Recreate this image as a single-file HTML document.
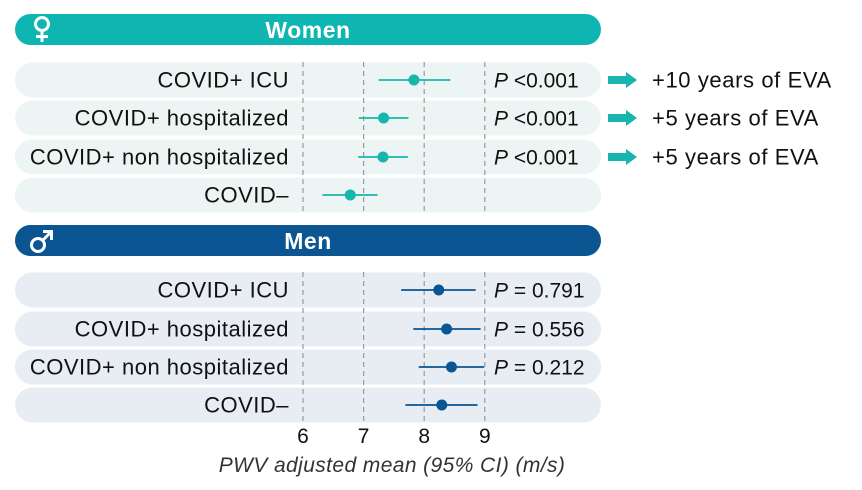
<!DOCTYPE html>
<html><head><meta charset="utf-8"><style>
html,body{margin:0;padding:0;background:#fff;}
svg{display:block;font-family:"Liberation Sans",sans-serif;}
</style></head><body>
<svg id="chart" width="862" height="490" viewBox="0 0 862 490"></svg>
<script>
const categories = ["COVID+ ICU","COVID+ hospitalized","COVID+ non hospitalized","COVID\u2013"];
const womenMean = [7.83, 7.33, 7.32, 6.78];
const womenLow = [7.25, 6.92, 6.91, 6.32];
const womenHigh = [8.43, 7.74, 7.73, 7.23];
const menMean = [8.24, 8.37, 8.45, 8.29];
const menLow = [7.62, 7.82, 7.91, 7.69];
const menHigh = [8.85, 8.93, 8.99, 8.88];
const womenP = ["<0.001","<0.001","<0.001",""];
const menP = ["= 0.791","= 0.556","= 0.212",""];
const womenNote = ["+10 years of EVA","+5 years of EVA","+5 years of EVA",""];
const xTicks = [6,7,8,9];

const svg = document.getElementById('chart');
const NS = 'http://www.w3.org/2000/svg';
function mk(tag, attrs, parent){const e=document.createElementNS(NS,tag);for(const k in attrs)e.setAttribute(k,attrs[k]);(parent||svg).appendChild(e);return e;}
const xScale = v => 303 + (v-6)*60.6;
const womenRowY = [80, 118, 157, 195];
const menRowY = [290, 329, 367, 405];

function header(y, color, label, name){
  const r = mk('rect',{x:15,y:y,width:586,height:31,rx:15.5,fill:color});
  
  
  const t = mk('text',{x:308,y:y+24,'font-size':23,'font-weight':'bold',fill:'#fff','text-anchor':'middle','letter-spacing':'0.5'}); t.textContent=label;
  
  
}
header(14,'#0fb5b0','Women','women');
header(225,'#0a5592','Men','men');
const fs = mk('g',{stroke:'#fff','stroke-width':3,fill:'none'});


mk('circle',{cx:42,cy:24,r:6.5},fs);
mk('line',{x1:42,y1:30.5,x2:42,y2:42},fs);
mk('line',{x1:36,y1:36.5,x2:48,y2:36.5},fs);
const ms = mk('g',{stroke:'#fff','stroke-width':3,fill:'none'});


mk('circle',{cx:38,cy:245,r:6.5},ms);
mk('line',{x1:43,y1:240,x2:51,y2:232},ms);
mk('path',{d:'M43 231.5H51.5V240'},ms);

function rows(ys, bg, name){
  ys.forEach((cy,i)=>{
    const r = mk('rect',{x:15,y:cy-17.5,width:586,height:35,rx:17.5,fill:bg});
    
    
    const t = mk('text',{x:289,y:cy+7.5,'font-size':22,fill:'#111','text-anchor':'end','letter-spacing':'0.5'}); t.textContent=categories[i];
    
    
  });
}
rows(womenRowY,'#ecf5f4','women');
rows(menRowY,'#e8edf4','men');

xTicks.forEach(v=>{
  [[62,213],[272,423]].forEach(([a,b])=>{
    const l = mk('line',{x1:xScale(v),x2:xScale(v),y1:a,y2:b,stroke:'#999','stroke-width':1.2,'stroke-dasharray':'5,4'});
    
    
  });
  const t = mk('text',{x:xScale(v),y:443,'font-size':21,fill:'#111','text-anchor':'middle'}); t.textContent=v;
  
  
});
const at = mk('text',{x:392,y:472,'font-size':21,'font-style':'italic',fill:'#333','text-anchor':'middle','letter-spacing':'0.4'});
at.textContent='PWV adjusted mean (95% CI) (m/s)';



function series(ys, mean, lo, hi, pv, color, name){
  ys.forEach((cy,i)=>{
    const l = mk('line',{x1:xScale(lo[i]),x2:xScale(hi[i]),y1:cy,y2:cy,stroke:color,'stroke-width':1.8});
    
    
    const c = mk('circle',{cx:xScale(mean[i]),cy:cy,r:5.5,fill:color});
    
    
    if(pv[i]){
      const t = mk('text',{x:494,y:cy+7.5,'font-size':21,fill:'#111'});
      const p = mk('tspan',{'font-style':'italic'},t); p.textContent='P';
      const v = mk('tspan',{},t); v.textContent=' '+pv[i];
      
      
    }
  });
}
series(womenRowY,womenMean,womenLow,womenHigh,womenP,'#17b5ad','women');
series(menRowY,menMean,menLow,menHigh,menP,'#0a5592','men');

womenRowY.forEach((cy,i)=>{
  if(!womenNote[i]) return;
  const a = mk('path',{d:`M608 ${cy-4}H626V${cy-8}L637 ${cy}L626 ${cy+8}V${cy+4}H608Z`,fill:'#17b5ad'});
  
  
  const t = mk('text',{x:652,y:cy+7.5,'font-size':22,fill:'#111','letter-spacing':'0.6'}); t.textContent=womenNote[i];
  
  
});
</script>
</body></html>
